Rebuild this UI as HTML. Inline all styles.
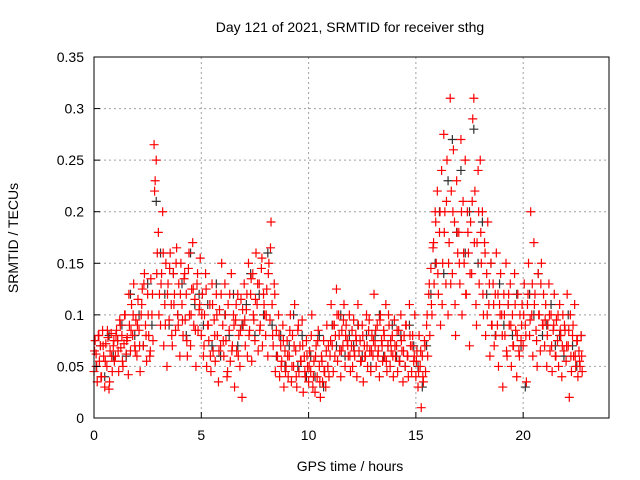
<!DOCTYPE html>
<html><head><meta charset="utf-8"><style>
body{margin:0;background:#fff;}
svg{display:block;font-family:"Liberation Sans",sans-serif;}
</style></head><body>
<svg id="chart" width="640" height="480" viewBox="0 0 640 480">
<text x="350" y="32" font-size="14" text-anchor="middle">Day 121 of 2021, SRMTID for receiver sthg</text>
<text x="350" y="471" font-size="14" text-anchor="middle">GPS time / hours</text>
<text x="18" y="238" font-size="14" text-anchor="middle" transform="rotate(-90 18 238)">SRMTID / TECUs</text>
<g id="grid"></g><g id="black"></g><g id="red"></g><g id="axes"></g>
</svg>
<script>
const xTicks=[0,5,10,15,20];
const yTicks=[0,0.05,0.1,0.15,0.2,0.25,0.3,0.35];
const yTickLabels=["0","0.05","0.1","0.15","0.2","0.25","0.3","0.35"];
const redStep=0.05;
const redValues=[
.045,.075,.062,.035,.08,.055,.07,.04,.085,.06,.03,.072,.05,.078,.028,.065,.082,.045,.07,.055,
.06,.085,.075,.045,.095,.068,.08,.05,.072,.1,.062,.078,.042,.09,.065,.11,.08,.13,.07,.095,
.06,.115,.085,.045,.1,.125,.07,.14,.09,.055,.12,.08,.06,.135,.1,.075,.265,.23,.25,.16,
.18,.12,.09,.14,.2,.07,.11,.15,.05,.13,.095,.16,.11,.07,.14,.12,.085,.165,.1,.13,
.06,.15,.11,.08,.135,.095,.12,.06,.145,.1,.07,.125,.17,.09,.115,.05,.13,.085,.105,.155,
.08,.12,.06,.1,.14,.05,.09,.075,.11,.045,.13,.065,.095,.055,.12,.08,.035,.105,.07,.15,
.09,.06,.13,.075,.04,.11,.085,.055,.14,.07,.1,.03,.095,.065,.12,.08,.05,.115,.02,.09,
.13,.07,.105,.06,.15,.085,.12,.055,.14,.095,.075,.16,.11,.065,.13,.09,.145,.07,.12,.1,
.08,.125,.06,.15,.095,.19,.11,.07,.13,.045,.085,.06,.1,.04,.07,.055,.09,.03,.065,.05,
.075,.04,.06,.1,.035,.08,.05,.11,.065,.03,.085,.045,.07,.055,.095,.025,.06,.04,.075,.05,
.035,.065,.045,.1,.03,.055,.025,.07,.04,.085,.05,.02,.06,.035,.075,.045,.03,.09,.05,.04,
.06,.11,.07,.045,.09,.08,.125,.055,.1,.065,.04,.085,.07,.11,.05,.09,.075,.06,.1,.045,
.07,.05,.095,.06,.08,.04,.11,.065,.075,.055,.09,.035,.07,.06,.1,.05,.085,.065,.045,.08,
.06,.12,.07,.05,.09,.065,.04,.1,.075,.055,.085,.06,.11,.045,.07,.09,.05,.065,.08,.04,
.095,.06,.07,.045,.085,.055,.1,.065,.035,.08,.05,.09,.06,.04,.11,.07,.045,.08,.055,.1,
.04,.065,.03,.08,.05,.01,.06,.035,.075,.045,.09,.06,.12,.08,.145,.1,.165,.13,.2,.15,
.22,.12,.18,.09,.24,.15,.275,.2,.13,.25,.1,.17,.31,.22,.14,.26,.19,.08,.23,.16,
.18,.13,.27,.1,.21,.15,.25,.12,.2,.16,.07,.19,.14,.29,.31,.22,.11,.17,.24,.13,
.25,.15,.2,.1,.17,.08,.14,.19,.11,.06,.15,.09,.13,.07,.12,.16,.09,.05,.11,.14,
.1,.03,.12,.08,.15,.06,.11,.09,.13,.05,.1,.07,.14,.085,.04,.12,.065,.1,.075,.11,
.07,.13,.09,.035,.11,.15,.08,.2,.1,.06,.17,.12,.085,.05,.14,.1,.065,.15,.09,.12,
.07,.11,.05,.09,.13,.065,.1,.045,.085,.12,.06,.095,.075,.05,.11,.08,.04,.1,.065,.085,
.055,.12,.07,.02,.1,.045,.08,.06,.11,.05,.075,.04,.065,.05,.08,.045];
const red2Step=0.1, red2Start=0.025;
const redValues2=[
.065,.05,.08,.04,.07,.055,.085,.035,.06,.075,
.08,.065,.09,.055,.1,.075,.12,.085,.1,.065,
.09,.07,.11,.13,.08,.1,.065,.12,.22,.14,
.1,.13,.16,.09,.12,.145,.08,.11,.15,.09,
.12,.095,.14,.075,.16,.1,.125,.085,.14,.11,
.1,.07,.125,.09,.06,.11,.08,.1,.065,.12,
.075,.1,.045,.12,.065,.09,.11,.06,.085,.105,
.095,.12,.08,.135,.1,.115,.13,.085,.155,.11,
.1,.14,.165,.08,.12,.06,.08,.05,.075,.045,
.06,.085,.05,.07,.04,.09,.055,.07,.045,.06,
.05,.08,.04,.06,.075,.035,.055,.045,.065,.07,
.075,.09,.06,.1,.08,.065,.095,.08,.07,.06,
.085,.065,.075,.09,.055,.08,.06,.07,.095,.065,
.075,.085,.06,.095,.07,.08,.055,.1,.075,.06,
.07,.085,.055,.075,.065,.09,.06,.08,.07,.06,
.055,.045,.065,.04,.07,.1,.13,.11,.17,.19,
.14,.2,.11,.18,.21,.15,.13,.2,.11,.18,
.15,.2,.16,.12,.18,.14,.21,.17,.09,.2,
.18,.12,.16,.1,.13,.09,.11,.08,.12,.1,
.08,.1,.065,.12,.09,.07,.11,.08,.06,.09,
.1,.08,.12,.095,.13,.11,.075,.1,.13,.09,
.095,.08,.1,.07,.09,.06,.1,.085,.07,.09,
.07,.085,.06,.09,.06,.075,.055,.06];
const blackStep=0.2, blackStart=0.1;
const blackValues=[
.05,.07,.04,.08,.06,.075,.09,.06,.12,.08,.1,.07,.13,.09,.21,.16,.12,.09,.14,.1,
.13,.08,.16,.11,.12,.09,.11,.07,.13,.06,.1,.08,.12,.07,.09,.11,.14,.08,.12,.1,
.16,.09,.06,.08,.05,.07,.1,.05,.08,.04,.06,.04,.08,.03,.05,.09,.07,.1,.06,.08,
.07,.09,.06,.08,.05,.08,.1,.06,.07,.09,.06,.08,.05,.09,.07,.05,.03,.07,.12,.15,
.2,.14,.23,.27,.18,.24,.16,.2,.28,.15,.19,.12,.15,.08,.13,.09,.11,.08,.12,.07,
.03,.12,.1,.14,.08,.09,.11,.07,.08,.06,.1,.07,.05,.08];
const L=94,R=609,T=57,B=418;
const xs=h=>L+(h/24)*(R-L);
const ys=v=>B-(v/0.35)*(B-T);
const NS="http://www.w3.org/2000/svg";
function mk(tag,attrs,parent){const e=document.createElementNS(NS,tag);for(const k in attrs)e.setAttribute(k,attrs[k]);parent.appendChild(e);return e;}
const grid=document.getElementById('grid'),axes=document.getElementById('axes');
xTicks.forEach(t=>{
 if(t>0){const g=mk('line',{x1:xs(t),x2:xs(t),y1:T,y2:B,stroke:'#a0a0a0','stroke-dasharray':'2,3'},grid);
 
 }
 const tk=mk('line',{x1:xs(t),x2:xs(t),y1:B,y2:B-6,stroke:'#000'},axes);
 
 
 const tx=mk('text',{x:xs(t),y:B+22,'font-size':14,'text-anchor':'middle'},axes);tx.textContent=t;
 
 
});
yTicks.forEach((t,i)=>{
 if(t>0&&t<0.35){const g=mk('line',{x1:L,x2:R,y1:ys(t),y2:ys(t),stroke:'#a0a0a0','stroke-dasharray':'2,3'},grid);
 
 }
 const tk=mk('line',{x1:L,x2:L+6,y1:ys(t),y2:ys(t),stroke:'#000'},axes);
 
 
 const tx=mk('text',{x:L-10,y:ys(t)+5,'font-size':14,'text-anchor':'end'},axes);tx.textContent=yTickLabels[i];
 
 
});
const frame=mk('rect',{x:L,y:T,width:R-L,height:B-T,fill:'none',stroke:'#000'},axes);


function cross(g,x,y,c){return mk('path',{d:`M${x-4.5},${y}h9M${x},${y-4.5}v9`,stroke:c,'stroke-width':1.2,fill:'none'},g);}
const bg=document.getElementById('black');
blackValues.forEach((v,i)=>{const p=cross(bg,xs(blackStart+i*blackStep),ys(v),'#303030');
 
 });
const rg=document.getElementById('red');
redValues.forEach((v,i)=>{const p=cross(rg,xs(i*redStep),ys(v),'#ff0000');
 
 });
redValues2.forEach((v,i)=>{const p=cross(rg,xs(red2Start+i*red2Step),ys(v),'#ff0000');
 
 });
</script>
</body></html>
